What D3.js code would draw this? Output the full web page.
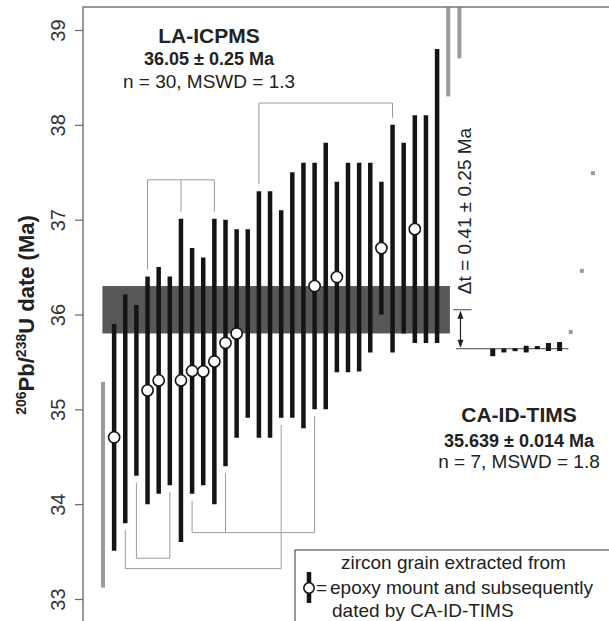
<!DOCTYPE html>
<html>
<head>
<meta charset="utf-8">
<script src="https://cdn.jsdelivr.net/npm/d3@7"></script>
<style>
  body { margin: 0; background: #fff; }
  svg { display: block; font-family: "Liberation Sans", Arial, sans-serif; }
</style>
</head>
<body>
<div id="chart"></div>
<script>
// LA-ICPMS grains (2s ranges, Ma), ordered by age; grain n sits in slot n
const laTop = [35.90, 36.21, 36.10, 36.40, 36.50, 36.40, 37.01, 36.70, 36.60, 37.01,
               37.00, 36.90, 36.90, 37.30, 37.30, 37.10, 37.50, 37.60, 37.60, 37.81,
               37.40, 37.60, 37.60, 37.60, 37.40, 38.00, 37.81, 38.10, 38.10, 38.80];
const laBottom = [33.51, 33.80, 34.30, 34.00, 34.11, 34.20, 33.60, 34.11, 34.20, 34.00,
                  34.40, 34.70, 34.91, 34.70, 34.70, 34.91, 34.91, 34.80, 35.00, 35.00,
                  35.39, 35.39, 35.40, 35.60, 36.00, 35.60, 35.80, 35.70, 35.70, 35.70];
// grains picked out of the mount and dated by CA-ID-TIMS
const timsDated = [1, 4, 5, 7, 8, 9, 10, 11, 12, 19, 21, 25, 28];

// rejected LA-ICPMS analyses (grey)
const laRejectedSlot = [0, 31, 32];
const laRejectedTop = [35.29, 39.60, 39.60];
const laRejectedBottom = [33.12, 38.30, 38.70];

const laMean = 36.05, laErr = 0.25;

// CA-ID-TIMS grains
const timsTop = [35.640, 35.640, 35.645, 35.670, 35.667, 35.700, 35.710];
const timsBottom = [35.560, 35.600, 35.615, 35.600, 35.636, 35.615, 35.615];
const timsRejected = [35.815, 36.46, 37.49];
const timsMean = 35.639;

// brackets joining grains (grain numbers, level in Ma)
const brackets = [
  { grains: [4, 7, 10], level: 37.42, side: "top" },
  { grains: [14, 26], level: 38.23, side: "top" },
  { grains: [2, 16], level: 33.32, side: "bottom" },
  { grains: [3, 6], level: 33.43, side: "bottom" },
  { grains: [8, 11, 19], level: 33.70, side: "bottom" }
];

const yTicks = [33, 34, 35, 36, 37, 38, 39];

const W = 609, H = 621;
const frame = { left: 83, top: 7 };
const timsStart = 35;

const svg = d3.select("#chart").append("svg")
  .attr("width", W)
  .attr("height", H);

const x = d3.scaleLinear().domain([0, 44]).range([103, 593]);
const y = d3.scaleLinear().domain([33, 39]).range([599, 30]);

svg.append("clipPath").attr("id", "plot-clip")
  .append("rect")
  .attr("x", frame.left).attr("y", frame.top)
  .attr("width", W - frame.left + 5).attr("height", H - frame.top + 5);

const plot = svg.append("g").attr("clip-path", "url(#plot-clip)");

// weighted mean band
plot.append("rect")
  .attr("x", x(-0.05))
  .attr("y", y(laMean + laErr))
  .attr("width", x(31.15) - x(-0.05))
  .attr("height", y(laMean - laErr) - y(laMean + laErr))
  .attr("fill", "#575757");

// brackets
const gap = 7;
brackets.forEach(b => {
  const ly = y(b.level);
  plot.append("line")
    .attr("x1", x(b.grains[0])).attr("x2", x(b.grains[b.grains.length - 1]))
    .attr("y1", ly).attr("y2", ly)
    .attr("stroke", "#9a9a9a").attr("stroke-width", 1);
  b.grains.forEach(g => {
    const end = b.side === "top" ? y(laTop[g - 1]) - gap : y(laBottom[g - 1]) + gap;
    plot.append("line")
      .attr("x1", x(g)).attr("x2", x(g))
      .attr("y1", ly).attr("y2", end)
      .attr("stroke", "#9a9a9a").attr("stroke-width", 1);
  });
});

// rejected LA-ICPMS bars
plot.selectAll(".rej")
  .data(laRejectedSlot)
  .join("line")
  .attr("class", "rej")
  .attr("x1", d => x(d)).attr("x2", d => x(d))
  .attr("y1", (d, i) => y(laRejectedTop[i]))
  .attr("y2", (d, i) => y(laRejectedBottom[i]))
  .attr("stroke", "#9c9c9c").attr("stroke-width", 4);

// LA-ICPMS bars
plot.selectAll(".la")
  .data(laTop)
  .join("line")
  .attr("class", "la")
  .attr("x1", (d, i) => x(i + 1)).attr("x2", (d, i) => x(i + 1))
  .attr("y1", d => y(d))
  .attr("y2", (d, i) => y(laBottom[i]))
  .attr("stroke", "#141414").attr("stroke-width", 4.5);

// circles for grains dated by CA-ID-TIMS
plot.selectAll(".dated")
  .data(timsDated)
  .join("circle")
  .attr("class", "dated")
  .attr("cx", g => x(g))
  .attr("cy", g => y((laTop[g - 1] + laBottom[g - 1]) / 2))
  .attr("r", 5.6)
  .attr("fill", "#fff")
  .attr("stroke", "#141414").attr("stroke-width", 1.6);

// delta-t arrow
const ax = x(32.1);
plot.append("line")
  .attr("x1", x(31.45)).attr("x2", x(33.1))
  .attr("y1", y(laMean)).attr("y2", y(laMean))
  .attr("stroke", "#444").attr("stroke-width", 1);
plot.append("line")
  .attr("x1", x(31.7)).attr("x2", x(41.8))
  .attr("y1", y(timsMean)).attr("y2", y(timsMean))
  .attr("stroke", "#444").attr("stroke-width", 1);
plot.append("line")
  .attr("x1", ax).attr("x2", ax)
  .attr("y1", y(laMean) + 2).attr("y2", y(timsMean) - 2)
  .attr("stroke", "#222").attr("stroke-width", 1.2);
const up = y(laMean) + 1, dn = y(timsMean) - 1;
plot.append("path")
  .attr("d", `M${ax},${up} L${ax - 3},${up + 8} L${ax + 3},${up + 8} Z M${ax},${dn} L${ax - 3},${dn - 8} L${ax + 3},${dn - 8} Z`)
  .attr("fill", "#222");

// CA-ID-TIMS bars
plot.selectAll(".tims")
  .data(timsTop)
  .join("rect")
  .attr("class", "tims")
  .attr("x", (d, i) => x(timsStart + i) - 2.5)
  .attr("y", d => y(d))
  .attr("width", 5)
  .attr("height", (d, i) => Math.max(3, y(timsBottom[i]) - y(d)))
  .attr("fill", "#141414");

plot.selectAll(".tims-rej")
  .data(timsRejected)
  .join("rect")
  .attr("class", "tims-rej")
  .attr("x", (d, i) => x(timsStart + 7 + i) - 2)
  .attr("y", d => y(d) - 2)
  .attr("width", 4).attr("height", 4)
  .attr("fill", "#9c9c9c");

// frame
svg.append("rect")
  .attr("x", frame.left).attr("y", frame.top)
  .attr("width", W).attr("height", H)
  .attr("fill", "none")
  .attr("stroke", "#777").attr("stroke-width", 1.5);

// y axis
const yAxis = svg.append("g")
  .attr("transform", `translate(${frame.left},0)`)
  .call(d3.axisLeft(y).tickValues(yTicks).tickSize(8).tickFormat(d3.format("d")));
yAxis.select(".domain").remove();
yAxis.selectAll(".tick line").attr("stroke", "#666").attr("stroke-width", 1.2);
yAxis.selectAll(".tick text")
  .attr("transform", "rotate(-90)")
  .attr("x", 0).attr("y", -18).attr("dy", 0)
  .attr("text-anchor", "middle")
  .attr("font-size", 20)
  .attr("font-family", "Liberation Sans, Arial, sans-serif")
  .attr("fill", "#333");

const yTitle = svg.append("text")
  .attr("transform", "translate(34,315) rotate(-90)")
  .attr("text-anchor", "middle")
  .attr("font-size", 22).attr("font-weight", "bold").attr("fill", "#222");
yTitle.append("tspan").attr("font-size", 14).attr("dy", -8).text("206");
yTitle.append("tspan").attr("dy", 8).text("Pb/");
yTitle.append("tspan").attr("font-size", 14).attr("dy", -8).text("238");
yTitle.append("tspan").attr("dy", 8).text("U date (Ma)");

// annotations
function label(lines, cx) {
  lines.forEach(l => {
    svg.append("text")
      .attr("x", cx).attr("y", l.y)
      .attr("text-anchor", "middle")
      .attr("font-size", l.size)
      .attr("font-weight", l.bold ? "bold" : "normal")
      .attr("fill", "#222")
      .text(l.text);
  });
}
label([
  { text: "LA-ICPMS", y: 43, size: 21, bold: true },
  { text: "36.05 ± 0.25 Ma", y: 65, size: 18, bold: true },
  { text: "n = 30, MSWD = 1.3", y: 88, size: 19 }
], 209);
label([
  { text: "CA-ID-TIMS", y: 422, size: 21, bold: true },
  { text: "35.639 ± 0.014 Ma", y: 447, size: 18, bold: true },
  { text: "n = 7, MSWD = 1.8", y: 468, size: 19 }
], 519);

svg.append("text")
  .attr("transform", "translate(471,211) rotate(-90)")
  .attr("text-anchor", "middle")
  .attr("font-size", 19)
  .attr("fill", "#222")
  .text("Δt = 0.41 ± 0.25 Ma");

// legend
const lg = svg.append("g");
lg.append("rect")
  .attr("x", 295).attr("y", 550)
  .attr("width", 330).attr("height", 80)
  .attr("fill", "#fff")
  .attr("stroke", "#333").attr("stroke-width", 1);
lg.append("line")
  .attr("x1", 309).attr("x2", 309).attr("y1", 572).attr("y2", 603)
  .attr("stroke", "#141414").attr("stroke-width", 4.5);
lg.append("circle")
  .attr("cx", 309).attr("cy", 588).attr("r", 5.2)
  .attr("fill", "#fff").attr("stroke", "#141414").attr("stroke-width", 1.6);
[
  { text: "zircon grain extracted from", x: 341, y: 569 },
  { text: "=", x: 316, y: 594 },
  { text: "epoxy mount and subsequently", x: 330, y: 594 },
  { text: "dated by CA-ID-TIMS", x: 332, y: 617 }
].forEach(l => {
  lg.append("text")
    .attr("x", l.x).attr("y", l.y)
    .attr("font-size", 19).attr("fill", "#222")
    .text(l.text);
});
</script>
</body>
</html>
